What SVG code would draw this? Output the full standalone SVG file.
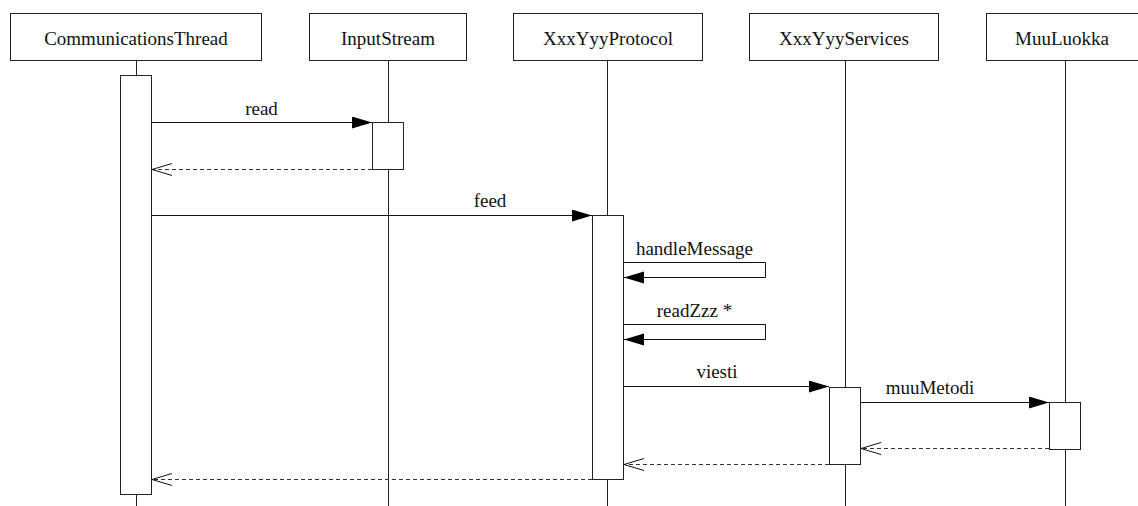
<svg xmlns="http://www.w3.org/2000/svg" width="1138" height="506" viewBox="0 0 1138 506">
<style>
.box{fill:#fff;stroke:#222;stroke-width:1}
.life{stroke:#222;stroke-width:1;fill:none}
.act{fill:#fff;stroke:#222;stroke-width:1}
.msg{stroke:#111;stroke-width:1;fill:none}
.ret{stroke:#333;stroke-width:1;fill:none;stroke-dasharray:4,3}
text{font-family:"Liberation Serif","Times New Roman",serif;font-size:19px;fill:#111;text-anchor:middle}
</style>
<defs>
<marker id="filled" markerUnits="userSpaceOnUse" markerWidth="21" markerHeight="13" refX="20" refY="6" orient="auto" viewBox="0 0 21 13">
<path d="M0,0 L20,6 L0,12 z" fill="#000"/>
</marker>
<marker id="open" markerUnits="userSpaceOnUse" markerWidth="21" markerHeight="14" refX="20" refY="6.5" orient="auto" viewBox="0 0 21 14">
<path d="M0,0.5 L20,6.5 L0,12.5" fill="none" stroke="#111" stroke-width="1"/>
</marker>
</defs>
<rect width="1138" height="506" fill="#fff"/>
<g id="node-communicationsthread">
<line class="life" x1="136.5" y1="60" x2="136.5" y2="506"/>
<rect class="box" x="10.5" y="13.5" width="251" height="47"/>
<text x="136" y="45">CommunicationsThread</text>
<rect class="act" x="120.5" y="75.5" width="31" height="419"/>
</g>
<g id="node-inputstream">
<line class="life" x1="388.5" y1="60" x2="388.5" y2="506"/>
<rect class="box" x="309.5" y="13.5" width="157" height="47"/>
<text x="388" y="45">InputStream</text>
<rect class="act" x="372.5" y="122.5" width="31" height="47"/>
</g>
<g id="node-xxxyyyprotocol">
<line class="life" x1="607.5" y1="60" x2="607.5" y2="506"/>
<rect class="box" x="513.5" y="13.5" width="189" height="47"/>
<text x="608" y="45">XxxYyyProtocol</text>
<rect class="act" x="592.5" y="215.5" width="31" height="264"/>
</g>
<g id="node-xxxyyyservices">
<line class="life" x1="845.5" y1="60" x2="845.5" y2="506"/>
<rect class="box" x="749.5" y="13.5" width="189" height="47"/>
<text x="844" y="45">XxxYyyServices</text>
<rect class="act" x="829.5" y="387.5" width="31" height="77"/>
</g>
<g id="node-muuluokka">
<line class="life" x1="1065.5" y1="60" x2="1065.5" y2="506"/>
<rect class="box" x="986.5" y="13.5" width="158" height="47"/>
<text x="1062" y="45">MuuLuokka</text>
<rect class="act" x="1049.5" y="402.5" width="31" height="47"/>
</g>
<g id="connectors">
<line class="msg" x1="152" y1="122.5" x2="372" y2="122.5" marker-end="url(#filled)"/>
<text x="261.5" y="115">read</text>
<line class="ret" x1="372" y1="169.5" x2="152" y2="169.5" marker-end="url(#open)"/>
<line class="msg" x1="152" y1="215.5" x2="592" y2="215.5" marker-end="url(#filled)"/>
<text x="490" y="207">feed</text>
<polyline class="msg" points="624,262.5 765.5,262.5 765.5,277.5 624,277.5" marker-end="url(#filled)"/>
<text x="694.5" y="255">handleMessage</text>
<polyline class="msg" points="624,324.5 765.5,324.5 765.5,339.5 624,339.5" marker-end="url(#filled)"/>
<text x="694.5" y="317">readZzz *</text>
<line class="msg" x1="624" y1="386.5" x2="829" y2="386.5" marker-end="url(#filled)"/>
<text x="717" y="378">viesti</text>
<line class="msg" x1="861" y1="402.5" x2="1049" y2="402.5" marker-end="url(#filled)"/>
<text x="930" y="394">muuMetodi</text>
<line class="ret" x1="1049" y1="448.5" x2="861" y2="448.5" marker-end="url(#open)"/>
<line class="ret" x1="829" y1="464.5" x2="624" y2="464.5" marker-end="url(#open)"/>
<line class="ret" x1="592" y1="479.5" x2="152" y2="479.5" marker-end="url(#open)"/>
</g>
</svg>
